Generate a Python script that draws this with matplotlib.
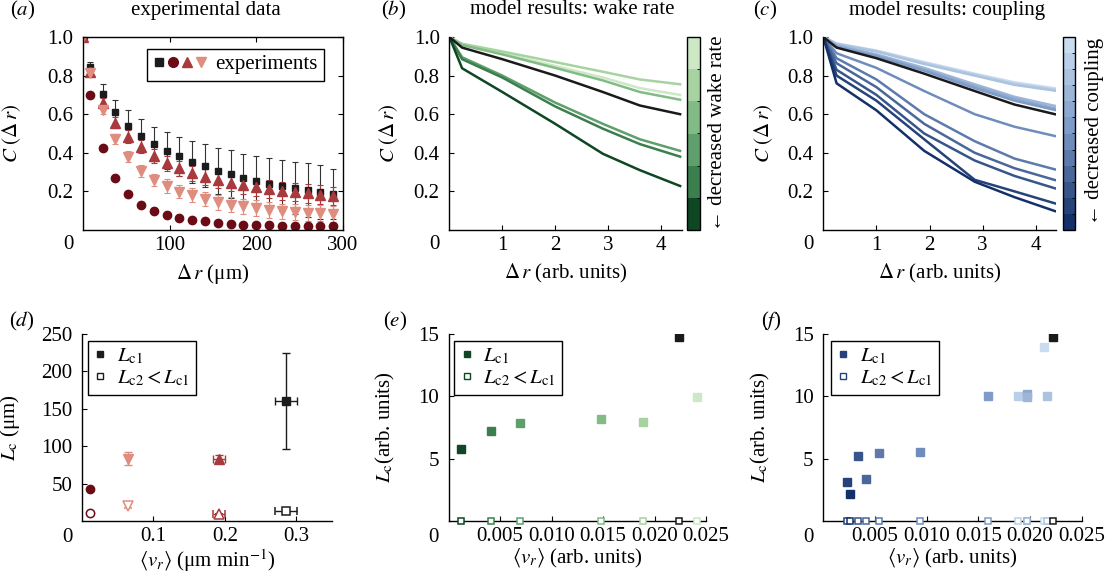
import numpy as np
import matplotlib as mpl
mpl.use('Agg')
import matplotlib.pyplot as plt
from matplotlib.lines import Line2D
from matplotlib.legend_handler import HandlerTuple
from matplotlib.colors import ListedColormap, BoundaryNorm, LinearSegmentedColormap
from matplotlib.ticker import FormatStrFormatter

# ---------------- data ----------------
# (a) experimental correlation C(dr)
dr_exp = [0, 7.4, 22.2, 37.0, 51.8, 66.6, 81.4, 96.2, 111.0, 125.8, 140.6,
          155.4, 170.2, 185.0, 199.8, 214.6, 229.4, 244.2, 259.0, 273.8, 288.6]
c_square = [1.0, 0.847, 0.703, 0.613, 0.541, 0.489, 0.446, 0.410, 0.382, 0.352, 0.333,
            0.308, 0.290, 0.270, 0.256, 0.240, 0.230, 0.218, 0.206, 0.197, 0.187]
e_square = [0, 0.026, 0.054, 0.063, 0.079, 0.086, 0.090, 0.096, 0.100, 0.108, 0.111,
            0.119, 0.123, 0.124, 0.129, 0.133, 0.131, 0.136, 0.141, 0.140, 0.131]
c_circle = [1.0, 0.70, 0.423, 0.268, 0.185, 0.130, 0.100, 0.078, 0.062, 0.054, 0.047,
            0.038, 0.031, 0.028, 0.026, 0.025, 0.023, 0.022, 0.022, 0.021, 0.021]
e_circle = [0, 0.01, 0.01, 0.01, 0.012, 0.013, 0.013, 0.013, 0.012, 0.012, 0.011,
            0.011, 0.010, 0.010, 0.010, 0.010, 0.010, 0.010, 0.010, 0.010, 0.010]
c_tri = [1.0, 0.82, 0.657, 0.556, 0.484, 0.432, 0.385, 0.346, 0.320, 0.294, 0.275,
         0.259, 0.245, 0.233, 0.221, 0.212, 0.204, 0.195, 0.190, 0.183, 0.176]
e_tri = [0, 0.01, 0.025, 0.030, 0.033, 0.035, 0.037, 0.038, 0.040, 0.040, 0.042,
         0.043, 0.044, 0.045, 0.046, 0.046, 0.047, 0.047, 0.048, 0.048, 0.048]
c_dtri = [1.0, 0.812, 0.622, 0.470, 0.380, 0.306, 0.259, 0.228, 0.199, 0.181, 0.161,
          0.143, 0.131, 0.123, 0.114, 0.104, 0.097, 0.093, 0.090, 0.086, 0.081]
e_dtri = [0, 0.01, 0.020, 0.025, 0.028, 0.030, 0.032, 0.034, 0.035, 0.036, 0.037,
          0.038, 0.038, 0.039, 0.040, 0.040, 0.040, 0.041, 0.041, 0.041, 0.041]

# (b) model, wake rate
dr_b = [0, 0.24, 1.0, 2.0, 2.9, 3.6, 4.36]
b_black = [1, 0.945, 0.885, 0.80, 0.715, 0.645, 0.60]
b_lines = [  # light -> dark
    [1, 0.962, 0.915, 0.85, 0.79, 0.735, 0.70],
    [1, 0.965, 0.925, 0.87, 0.82, 0.78, 0.755],
    [1, 0.958, 0.91, 0.84, 0.775, 0.715, 0.675],
    [1, 0.895, 0.80, 0.66, 0.55, 0.47, 0.41],
    [1, 0.885, 0.79, 0.64, 0.525, 0.445, 0.38],
    [1, 0.838, 0.715, 0.55, 0.395, 0.31, 0.228],
]

# (c) model, coupling
dr_c = [0, 0.25, 1.0, 1.9, 2.85, 3.6, 4.36]
c_black = [1, 0.945, 0.89, 0.81, 0.72, 0.65, 0.60]
c_lines = [  # light -> dark
    [1, 0.967, 0.93, 0.87, 0.81, 0.765, 0.734],
    [1, 0.965, 0.927, 0.865, 0.805, 0.758, 0.728],
    [1, 0.963, 0.925, 0.86, 0.80, 0.752, 0.722],
    [1, 0.958, 0.91, 0.84, 0.755, 0.69, 0.643],
    [1, 0.952, 0.905, 0.83, 0.745, 0.68, 0.63],
    [1, 0.948, 0.90, 0.825, 0.735, 0.67, 0.622],
    [1, 0.916, 0.84, 0.72, 0.60, 0.535, 0.487],
    [1, 0.89, 0.78, 0.60, 0.46, 0.37, 0.314],
    [1, 0.864, 0.74, 0.55, 0.40, 0.32, 0.259],
    [1, 0.83, 0.70, 0.50, 0.36, 0.28, 0.216],
    [1, 0.80, 0.67, 0.47, 0.26, 0.20, 0.138],
    [1, 0.76, 0.62, 0.41, 0.25, 0.17, 0.098],
]

# (d) experimental correlation lengths
d_vr = [0.011, 0.064, 0.192, 0.286]
d_vr_err = [0, 0, 0.008, 0.0156]
d_lc1 = [43.4, 83.5, 83.0, 160.0]
d_lc1_err = [0, 9, 5, 64]
d_lc2 = [10.7, 20.0, 9.8, 14.0]
d_lc2_err = [0, 3, 0, 0]

# (e) model lengths, wake rate
e_vr = [0.00117, 0.00412, 0.00695, 0.01475, 0.01884, 0.02417, 0.02235]
e_lc1 = [5.75, 7.2, 7.84, 8.19, 7.98, 9.96, 14.76]
e_lc2 = [0, 0, 0, 0, 0, 0, 0]
e_col_idx = [5, 4, 3, 2, 1, 0, -1]   # -1 = black

# (f) model lengths, coupling
f_vr = [0.00226, 0.00258, 0.00333, 0.0041, 0.00536, 0.00936, 0.01597,
        0.01887, 0.01968, 0.01968, 0.02135, 0.02161, 0.02225]
f_lc1 = [3.15, 2.16, 5.24, 3.34, 5.46, 5.56, 9.99, 9.99, 10.2, 9.93, 13.95, 9.99, 14.76]
f_lc2 = [0, 0, 0, 0, 0, 0, 0, 0, 0, 0, 0, 0, 0]
f_col_idx = [10, 11, 9, 8, 7, 6, 5, 1, 4, 3, 0, 2, -1]

# ---------------- style ----------------
plt.rcParams['font.family'] = ['Liberation Serif', 'DejaVu Serif']
plt.rcParams['mathtext.fontset'] = 'stix'
plt.rcParams['font.size'] = 15
plt.rcParams['axes.linewidth'] = 1.0
plt.rcParams['xtick.direction'] = 'in'
plt.rcParams['ytick.direction'] = 'in'
plt.rcParams['xtick.major.size'] = 3.5
plt.rcParams['ytick.major.size'] = 3.5
plt.rcParams['xtick.major.pad'] = 4
plt.rcParams['ytick.major.pad'] = 7

col_sq = '#1c1c1c'
col_ci = '#6b0b16'
col_tr = '#a8393d'
col_dt = '#df8d7e'
greens = ['#cde8c5', '#a7d3a0', '#82bb86', '#5f9f6c', '#3b7f4e', '#0f4624']
blue_cmap = LinearSegmentedColormap.from_list('bl', ['#c9dcf0', '#7896c4', '#14306a'])
blues = [blue_cmap(i / 11.) for i in range(12)]

W, H = 1111., 585.
fig = plt.figure(figsize=(W / 100, H / 100), dpi=100)


def add_ax(l, t, r, b):
    return fig.add_axes([l / W, 1 - b / H, (r - l) / W, (b - t) / H])


def corner_zero(ax, dy):
    ax.annotate('0', xy=(0, 0), xycoords='axes fraction', xytext=(-15, dy),
                textcoords='offset pixels', ha='center', va='center')


def open_spines(ax):
    ax.spines['top'].set_visible(False)
    ax.spines['right'].set_visible(False)


# ---------------- (a) ----------------
ax = add_ax(83.3, 37, 343, 230)
ebkw = dict(capsize=2.5, elinewidth=0.8, capthick=0.8, ls='none')
ax.errorbar(dr_exp, c_square, yerr=e_square, marker='s', ms=5, color=col_sq, ecolor='#333333', **ebkw)
ax.errorbar(dr_exp, c_circle, yerr=e_circle, marker='o', ms=6, color=col_ci, **ebkw)
ax.errorbar(dr_exp, c_tri, yerr=e_tri, marker='^', ms=6.5, color=col_tr, **ebkw)
ax.errorbar(dr_exp, c_dtri, yerr=e_dtri, marker='v', ms=6.5, color=col_dt, **ebkw)
ax.set_xlim(0, 300)
ax.set_ylim(0, 1.0)
ax.set_xticks([100, 200, 300])
ax.set_yticks([0.2, 0.4, 0.6, 0.8, 1.0])
ax.yaxis.set_major_formatter(FormatStrFormatter('%.1f'))
ax.tick_params(top=True, right=True)
ax.set_xlabel(r'$\Delta\,r$ (μm)')
ax.xaxis.set_label_coords(0.5, -0.165)
ax.set_ylabel(r'$C\ (\Delta\,r)$')
ax.yaxis.set_label_coords(-0.232, 0.5)
corner_zero(ax, -15)
hs = (Line2D([], [], marker='s', ls='none', color=col_sq, ms=6),
      Line2D([], [], marker='o', ls='none', color=col_ci, ms=7),
      Line2D([], [], marker='^', ls='none', color=col_tr, ms=7.5),
      Line2D([], [], marker='v', ls='none', color=col_dt, ms=7.5))
leg = ax.legend([hs], ['experiments'], handler_map={tuple: HandlerTuple(ndivide=None, pad=0.1)},
                handlelength=2.6, handletextpad=0.4, loc='upper right',
                bbox_to_anchor=(0.927, 0.94), fancybox=False, edgecolor='k',
                framealpha=1, borderpad=0.3, borderaxespad=0)
leg.get_frame().set_linewidth(1.0)

# ---------------- (b) ----------------
ax = add_ax(449.4, 37, 681.7, 230)
open_spines(ax)
for ys, col in zip(b_lines, greens):
    ax.plot(dr_b, ys, color=col, lw=1.8)
ax.plot(dr_b, b_black, color='#1a1a1a', lw=1.8)
ax.set_xlim(0, 4.39)
ax.set_ylim(0, 1.0)
ax.set_xticks([1, 2, 3, 4])
ax.set_yticks([0.2, 0.4, 0.6, 0.8, 1.0])
ax.yaxis.set_major_formatter(FormatStrFormatter('%.1f'))
ax.set_xlabel(r'$\Delta\,r$ (arb. units)')
ax.xaxis.set_label_coords(0.5, -0.165)
ax.set_ylabel(r'$C\ (\Delta\,r)$')
ax.yaxis.set_label_coords(-0.213, 0.5)
corner_zero(ax, -15)

cax = add_ax(687.3, 37, 700, 230)
cm = ListedColormap(greens[::-1])
cb = fig.colorbar(mpl.cm.ScalarMappable(norm=BoundaryNorm(np.arange(7), 6), cmap=cm), cax=cax)
cb.set_ticks([])
cb.outline.set_linewidth(1.0)
cax.text(2.35, 0.5, '← decreased wake rate', rotation=90, transform=cax.transAxes,
         ha='center', va='center')

# ---------------- (c) ----------------
ax = add_ax(823.3, 37, 1056, 230)
open_spines(ax)
for ys, col in zip(c_lines, blues):
    ax.plot(dr_c, ys, color=col, lw=1.8)
ax.plot(dr_c, c_black, color='#1a1a1a', lw=1.8)
ax.set_xlim(0, 4.38)
ax.set_ylim(0, 1.0)
ax.set_xticks([1, 2, 3, 4])
ax.set_yticks([0.2, 0.4, 0.6, 0.8, 1.0])
ax.yaxis.set_major_formatter(FormatStrFormatter('%.1f'))
ax.set_xlabel(r'$\Delta\,r$ (arb. units)')
ax.xaxis.set_label_coords(0.5, -0.165)
ax.set_ylabel(r'$C\ (\Delta\,r)$')
ax.yaxis.set_label_coords(-0.208, 0.5)
corner_zero(ax, -15)

cax = add_ax(1062.7, 37, 1075, 230)
cm = ListedColormap(blues[::-1])
cb = fig.colorbar(mpl.cm.ScalarMappable(norm=BoundaryNorm(np.arange(13), 12), cmap=cm), cax=cax)
cb.set_ticks([])
cb.outline.set_linewidth(1.0)
cax.text(2.55, 0.51, '← decreased coupling', rotation=90, transform=cax.transAxes,
         ha='center', va='center')

# ---------------- (d) ----------------
ax = add_ax(82, 334, 332, 521)
open_spines(ax)
d_marks = ['o', 'v', '^', 's']
d_sizes = [6, 6.5, 6.5, 5.5]
d_cols = [col_ci, col_dt, col_tr, col_sq]
for i in range(4):
    ax.errorbar(d_vr[i], d_lc1[i], xerr=d_vr_err[i], yerr=d_lc1_err[i], marker=d_marks[i],
                ms=d_sizes[i], color=d_cols[i], capsize=3, elinewidth=1.0, ls='none')
    ax.errorbar(d_vr[i], d_lc2[i], xerr=d_vr_err[i], yerr=d_lc2_err[i], marker=d_marks[i],
                ms=d_sizes[i], color=d_cols[i], mfc='white', mew=1.1, capsize=3, elinewidth=1.0, ls='none')
ax.set_xlim(0, 0.35)
ax.set_ylim(0, 250)
ax.set_xticks([0.1, 0.2, 0.3])
ax.set_yticks([50, 100, 150, 200, 250])
ax.set_xlabel(r'$\langle v_r\rangle$ (μm min$^{-1}$)')
ax.xaxis.set_label_coords(0.5, -0.14)
ax.set_ylabel(r'$L_{\rm c}$ (μm)')
ax.yaxis.set_label_coords(-0.24, 0.5)
corner_zero(ax, -17)


def lc_legend(ax, col, x0):
    hs = [Line2D([], [], marker='s', ls='none', color=col, ms=4.5),
          Line2D([], [], marker='s', ls='none', color=col, mfc='white', ms=4.5, mew=1.0)]
    leg = ax.legend(hs, [r'$L_{\rm c1}$', r'$L_{\rm c2}<L_{\rm c1}$'], loc='upper left',
                    bbox_to_anchor=(x0, 0.965), fancybox=False, edgecolor='k', framealpha=1,
                    handlelength=0.6, handletextpad=0.5, borderpad=0.3, labelspacing=0.1,
                    borderaxespad=0, fontsize=15)
    leg.get_frame().set_linewidth(1.0)


lc_legend(ax, col_sq, 0.023)

# ---------------- (e) ----------------
ax = add_ax(448.7, 334, 706, 521)
open_spines(ax)
for v, l1, l2, ci in zip(e_vr, e_lc1, e_lc2, e_col_idx):
    col = '#1a1a1a' if ci < 0 else greens[ci]
    ax.plot(v, l1, marker='s', ms=5.5, color=col, ls='none')
    ax.plot(v, l2, marker='s', ms=5, color=col, mfc='white', mew=1.1, ls='none', clip_on=False, zorder=5)
ax.set_xlim(0, 0.025)
ax.set_ylim(0, 15)
ax.set_xticks([0.005, 0.010, 0.015, 0.020, 0.025])
ax.xaxis.set_major_formatter(FormatStrFormatter('%.3f'))
ax.set_yticks([5, 10, 15])
ax.set_xlabel(r'$\langle v_r\rangle$ (arb. units)')
ax.xaxis.set_label_coords(0.5, -0.14)
ax.set_ylabel(r'$L_{\rm c}$(arb. units)')
ax.yaxis.set_label_coords(-0.2, 0.5)
corner_zero(ax, -17)
lc_legend(ax, greens[5], 0.021)

# ---------------- (f) ----------------
ax = add_ax(823.3, 334, 1081.7, 521)
open_spines(ax)
for v, l1, l2, ci in zip(f_vr, f_lc1, f_lc2, f_col_idx):
    col = '#1a1a1a' if ci < 0 else blues[ci]
    ax.plot(v, l1, marker='s', ms=5.5, color=col, ls='none')
    ax.plot(v, l2, marker='s', ms=5, color=col, mfc='white', mew=1.1, ls='none', clip_on=False, zorder=5)
ax.set_xlim(0, 0.025)
ax.set_ylim(0, 15)
ax.set_xticks([0.005, 0.010, 0.015, 0.020, 0.025])
ax.xaxis.set_major_formatter(FormatStrFormatter('%.3f'))
ax.set_yticks([5, 10, 15])
ax.set_xlabel(r'$\langle v_r\rangle$ (arb. units)')
ax.xaxis.set_label_coords(0.5, -0.14)
ax.set_ylabel(r'$L_{\rm c}$(arb. units)')
ax.yaxis.set_label_coords(-0.2, 0.5)
corner_zero(ax, -17)
lc_legend(ax, blues[10], 0.029)

# ---------------- titles and panel letters ----------------
fig.text(206 / W, 1 - 10 / H, 'experimental data', ha='center', va='center')
fig.text(572.5 / W, 1 - 10 / H, 'model results: wake rate', ha='center', va='center')
fig.text(947.5 / W, 1 - 10 / H, 'model results: coupling', ha='center', va='center')
for lab, x, y in [('a', 23, 10), ('b', 394, 10), ('c', 765, 10),
                  ('d', 22, 321), ('e', 395, 321), ('f', 771, 321)]:
    fig.text(x / W, 1 - y / H, '($%s$)' % lab, ha='center', va='center')

fig.savefig('out.png', dpi=100)
